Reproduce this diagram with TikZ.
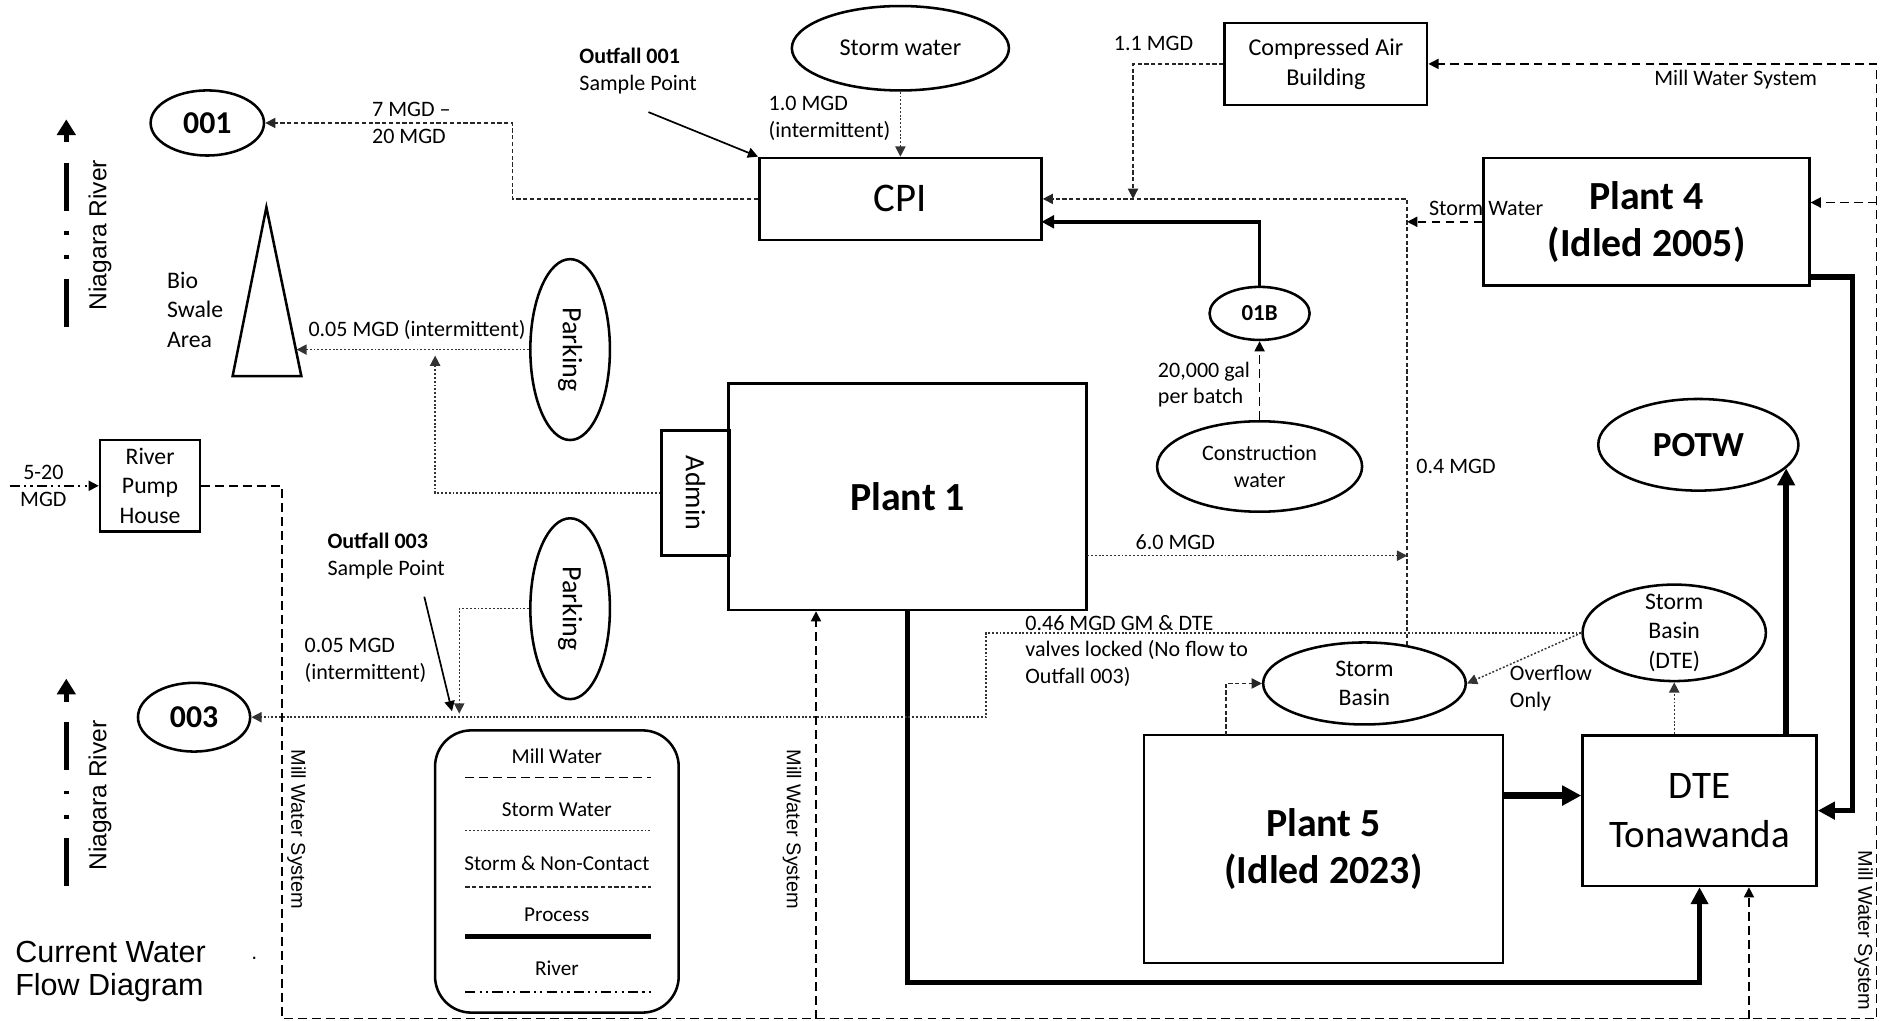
\documentclass[tikz,border=0pt]{standalone}
\usepackage{fontspec}
\setmainfont{Carlito}
\newfontfamily\arialfont{Liberation Sans}
\usetikzlibrary{shapes.geometric,arrows.meta}
\tikzset{
	box/.style={draw,line width=0.6pt,inner sep=0pt,align=center},
	oval/.style={draw,ellipse,line width=0.6pt,inner sep=0pt,align=center},
	ftsmall/.style={font=\fontsize{5.2}{6.3}\selectfont},
	ftmid/.style={font=\fontsize{5.6}{7}\selectfont},
	ftbig/.style={font=\fontsize{9.4}{11.2}\selectfont\bfseries},
	ftsans/.style={font=\arialfont\fontsize{4.7}{5.6}\selectfont},
	lbl/.style={inner sep=0pt,align=left,ftsmall},
	millw/.style={line width=0.35pt,dash pattern=on 2.1pt off 1.2pt},
	stormw/.style={line width=0.35pt,dash pattern=on 0.45pt off 0.45pt,black!80},
	noncont/.style={line width=0.35pt,dash pattern=on 1pt off 0.6pt,black!85},
	process/.style={line width=1.3pt},
	river/.style={line width=0.35pt,dash pattern=on 2.4pt off 1pt on 0.5pt off 1pt on 0.5pt off 1pt},
	niag/.style={line width=1.15pt,dash pattern=on 11.3pt off 4.6pt on 0.9pt off 4.8pt on 0.9pt off 4.8pt},
	ptip/.tip={Triangle[length=4pt,width=4pt]},
}
\begin{document}
\begin{tikzpicture}[x=0.01cm,y=-0.01cm,>={Triangle[length=2.4pt,width=2.4pt]}]
	\useasboundingbox (0,0) rectangle (1568,847);
	\node[oval,minimum width=0.94cm,minimum height=0.54cm,font=\fontsize{7.5}{9}\selectfont\bfseries] (o001) at (172,102) {001};
	\node[oval,minimum width=0.93cm,minimum height=0.57cm,font=\fontsize{7.5}{9}\selectfont\bfseries] (o003) at (161,595) {003};
	\node[oval,minimum width=1.8cm,minimum height=0.7cm,font=\fontsize{5.7}{7}\selectfont] (swater) at (747,40) {Storm water};
	\node[box,minimum width=2.34cm,minimum height=0.68cm,font=\fontsize{9.6}{11}\selectfont] (cpi) at (747,165) {CPI};
	\node[box,minimum width=1.68cm,minimum height=0.68cm,font=\fontsize{5.7}{7.1}\selectfont] (air) at (1100,53) {Compressed Air\\Building};
	\node[box,minimum width=2.7cm,minimum height=1.06cm,ftbig] (plant4) at (1366,184) {Plant 4\\(Idled 2005)};
	\node[oval,minimum width=0.83cm,minimum height=0.44cm,font=\fontsize{5.4}{6}\selectfont\bfseries] (b01) at (1045,260) {01B};
	\node[oval,minimum width=1.7cm,minimum height=0.75cm,ftsmall] (constr) at (1045,387) {Construction\\water};
	\node[oval,minimum width=1.66cm,minimum height=0.76cm,font=\fontsize{8.3}{10}\selectfont\bfseries] (potw) at (1409,369) {POTW};
	\node[box,minimum width=2.97cm,minimum height=1.88cm,ftbig] (plant1) at (753,412) {Plant 1};
	\node[box,minimum width=0.56cm,minimum height=1.04cm,font=\fontsize{6.6}{8}\selectfont] (admin) at (577,409) {\rotatebox{-90}{Admin}};
	\node[oval,minimum width=0.66cm,minimum height=1.5cm,font=\fontsize{6.6}{8}\selectfont] (park1) at (473,290) {\rotatebox{-90}{Parking}};
	\node[oval,minimum width=0.66cm,minimum height=1.5cm,font=\fontsize{6.6}{8}\selectfont] (park2) at (473,505) {\rotatebox{-90}{Parking}};
	\node[box,minimum width=0.83cm,minimum height=0.76cm,ftmid] (pump) at (124.5,403) {River\\Pump\\House};
	\node[oval,minimum width=1.52cm,minimum height=0.8cm,inner ysep=-3pt,ftmid] (sbdte) at (1389,525) {Storm\\Basin\\(DTE)};
	\node[oval,minimum width=1.68cm,minimum height=0.68cm,ftmid] (sb) at (1132,567) {Storm\\Basin};
	\node[box,minimum width=2.98cm,minimum height=1.89cm,ftbig] (plant5) at (1098,704.5) {Plant 5\\(Idled 2023)};
	\node[box,minimum width=1.94cm,minimum height=1.25cm,font=\fontsize{9.2}{11.4}\selectfont] (dte) at (1410,672.5) {DTE\\Tonawanda};
	\node[draw,rounded corners=0.3cm,line width=0.6pt,minimum width=2.02cm,minimum height=2.34cm] (legend) at (462,723) {};
	\draw[line width=0.6pt] (221,172) -- (250,312) -- (193,312) -- cycle;
	\node[ftmid,anchor=west,align=left,inner sep=0pt] (lbio) at (138,257) {Bio\\Swale\\Area};
	\coordinate (swale) at (246,290);
	\coordinate (c001) at (425,165);
	\coordinate (out1) at (538,93);
	\coordinate (j1) at (940,165);
	\coordinate (j2) at (sb.42 |- cpi.east);
	\coordinate (mwtr) at (1557,53);
	\coordinate (mwbr) at (1557,845);
	\coordinate (mwbl) at (234,845);
	\coordinate (mwtl) at (234,403);
	\coordinate (mw4) at (1557,168);
	\coordinate (mw1) at (677,845);
	\coordinate (mw5) at (1451,845);
	\coordinate (p4out) at (1501,230);
	\coordinate (p4r) at (1537,230);
	\coordinate (cpi2) at (864,184);
	\coordinate (adup) at (361,295);
	\coordinate (rivin) at (8,403);
	\coordinate (p1out) at (902,461);
	\coordinate (p1dn) at (753,815);
	\coordinate (p5out) at (1247,660);
	\coordinate (p5up) at (1017,610);
	\coordinate (v003) at (818,595);
	\coordinate (p2dn) at (381,592);
	\coordinate (out3a) at (352,495);
	\coordinate (out3b) at (375,590);
	\draw[noncont,->] (cpi.west) -- (c001) |- (o001.east);
	\draw[line width=0.4pt,->] (out1) -- (cpi.north west);
	\draw[stormw,->] (swater.south) -- (cpi.north);
	\draw[noncont,->] (air.west) -| (j1);
	\draw[noncont,->] (sb.42) -- (j2) -- (cpi.east);
	\draw[millw,->] (plant4.west) -- (plant4.west -| j2);
	\draw[millw,->] (pump.east) -- (mwtl) -- (mwbl) -- (mwbr) -- (mwtr) -- (air.east);
	\draw[millw,->] (mw4) -- (mw4 -| plant4.east);
	\draw[millw,->] (mw1) -- (mw1 |- plant1.south);
	\draw[millw,->] (mw5) -- (mw5 |- dte.south);
	\draw[process,-ptip] (p4out) -- (p4r) |- (dte.east);
	\draw[line width=0.8pt,-{Triangle[length=3pt,width=3pt]}] (b01.north) |- (cpi2);
	\draw[millw,->] (constr.north) -- (b01.south);
	\draw[stormw,->] (park1.west) -- (swale);
	\draw[stormw,->] (admin.west) -| (adup);
	\draw[river,->] (rivin) -- (pump.west);
	\draw[stormw,->] (p1out) -- (p1out -| j2);
	\draw[process,-ptip] (plant1.south) -- (p1dn) -| (dte.south);
	\draw[line width=1.5pt,-{Triangle[length=4.5pt,width=4.5pt]}] (p5out) -- (p5out -| dte.west);
	\draw[process,-ptip] (potw.-15 |- dte.north) -- (potw.-15);
	\draw[stormw,->] (sbdte.south |- dte.north) -- (sbdte.south);
	\draw[noncont,->] (p5up) |- (sb.west);
	\draw[stormw,->] (sbdte.west) -- (sb.east);
	\draw[stormw,->] (sbdte.west) -| (v003) -- (o003.east);
	\draw[stormw,->] (park2.west) -| (p2dn);
	\draw[line width=0.4pt,->] (out3a) -- (out3b);
	\node[lbl,anchor=west] (l7mgd) at (308,91) {7 MGD –};
	\node[lbl,anchor=west] (l20mgd) at (308,113) {20 MGD};
	\node[lbl,anchor=west] (lout1) at (480,59) {\textbf{Outfall 001}\\Sample Point};
	\node[lbl,anchor=west] (l10) at (637,98) {1.0 MGD\\(intermittent)};
	\node[lbl] (l11) at (957,36) {1.1 MGD};
	\node[lbl] (lmws) at (1440,66) {Mill Water System};
	\node[lbl] (lsw4) at (1233,173) {Storm Water};
	\node[lbl,anchor=west] (lgal) at (960,319) {20,000 gal\\per batch};
	\node[lbl] (l04) at (1208,387) {0.4 MGD};
	\node[lbl] (l60) at (975,450) {6.0 MGD};
	\node[lbl,anchor=west] (l046) at (850,540) {0.46 MGD GM \& DTE\\valves locked (No flow to\\Outfall 003)};
	\node[lbl,anchor=west] (lover) at (1252,571) {Overflow\\Only};
	\node[lbl] (l005) at (346,274) {0.05 MGD (intermittent)};
	\node[lbl,anchor=west] (lout3) at (271,461) {\textbf{Outfall 003}\\Sample Point};
	\node[lbl,anchor=west] (l005b) at (252,548) {0.05 MGD\\(intermittent)};
	\node[lbl,align=center] (lriv) at (36,403) {5-20\\MGD};
	\node[ftsans,rotate=-90] (lmw1) at (246,688) {Mill Water System};
	\node[ftsans,rotate=-90] (lmw2) at (657,688) {Mill Water System};
	\node[ftsans,rotate=-90] (lmw3) at (1546,772) {Mill Water System};
	\node[font=\arialfont\fontsize{5.8}{7}\selectfont,rotate=90] (lnr1) at (83,195) {Niagara River};
	\node[font=\arialfont\fontsize{5.8}{7}\selectfont,rotate=90] (lnr2) at (83,660) {Niagara River};
	\node[anchor=west,align=left,inner sep=0pt,font=\arialfont\fontsize{7.2}{8}\selectfont] (title) at (12,806) {Current Water\\Flow Diagram};
	\node[font=\arialfont\fontsize{5}{6}\selectfont,inner sep=0pt] (tdot) at (211,795) {.};
	\coordinate (nr1a) at (55,271);
	\coordinate (nr1b) at (55,134);
	\coordinate (nr1c) at (55,118);
	\coordinate (nr1d) at (55,99);
	\coordinate (nr2a) at (55,735);
	\coordinate (nr2b) at (55,598);
	\coordinate (nr2c) at (55,582);
	\coordinate (nr2d) at (55,563);
	\draw[niag] (nr1a) -- (nr1b);
	\draw[line width=1.15pt,-{Triangle[length=3.7pt,width=4.3pt]}] (nr1c) -- (nr1d);
	\draw[niag] (nr2a) -- (nr2b);
	\draw[line width=1.15pt,-{Triangle[length=3.7pt,width=4.3pt]}] (nr2c) -- (nr2d);
	\node[font=\fontsize{5}{6}\selectfont] (lgmw) at (462,627) {Mill Water};
	\draw[millw] (386,645) -- (540,645);
	\node[font=\fontsize{5}{6}\selectfont] (lgsw) at (462,672) {Storm Water};
	\draw[stormw] (386,689) -- (540,689);
	\node[font=\fontsize{5}{6}\selectfont] (lgsn) at (462,716) {Storm \& Non-Contact};
	\draw[noncont] (386,736) -- (540,736);
	\node[font=\fontsize{5}{6}\selectfont] (lgpr) at (462,759) {Process};
	\draw[process] (386,777) -- (540,777);
	\node[font=\fontsize{5}{6}\selectfont] (lgrv) at (462,803) {River};
	\draw[river] (386,823) -- (540,823);
\end{tikzpicture}
\end{document}
